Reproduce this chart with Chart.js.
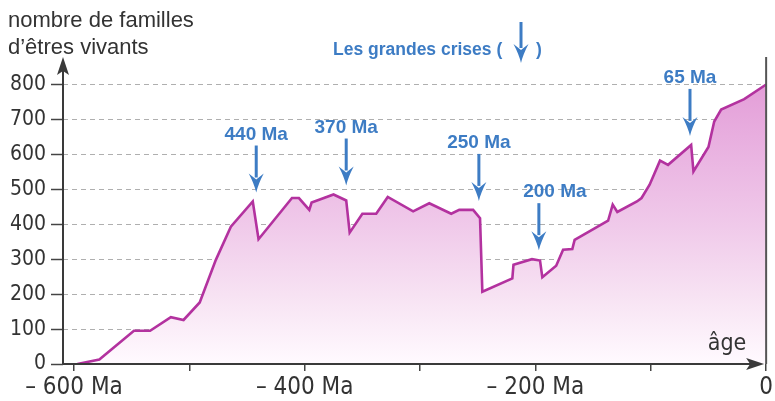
<!DOCTYPE html>
<html>
<head>
<meta charset="utf-8">
<script src="https://cdn.jsdelivr.net/npm/chart.js@4"></script>
<style>
  html, body { margin: 0; padding: 0; background: #fff; }
  #wrap { width: 775px; height: 401px; }
</style>
</head>
<body>
<div id="wrap"><canvas id="crises"></canvas></div>
<script>
// age (Ma, negative = past) and number of families
const ages = [-597, -578, -548, -534, -516, -505, -491, -477, -464, -445, -440, -411, -405, -396, -394,
  -375, -364, -361, -350, -338, -328, -306, -292, -273, -266, -254, -248, -246, -220, -219, -203, -196,
  -194, -182, -176, -168, -166, -137, -133, -129, -112, -108, -101, -92, -85, -65, -63, -50, -45, -39, -19, 0];
const families = [0, 13, 95, 95, 134, 126, 176, 298, 393, 465, 357, 475, 475, 441, 462,
  485, 468, 376, 430, 430, 478, 437, 460, 430, 441, 441, 417, 207, 245, 284, 300, 296,
  248, 281, 327, 329, 355, 410, 456, 435, 465, 475, 513, 582, 570, 627, 551, 621, 694, 728, 758, 800];

const xTicks = [-600, -500, -400, -300, -200, -100, 0];
const xTickLabels = { "-600": "– 600 Ma", "-400": "– 400 Ma", "-200": "– 200 Ma", "0": "0" };
const yTicks = [0, 100, 200, 300, 400, 500, 600, 700, 800];

// the big crises: label, age, families just before the drop
const crisisLabels = ["440 Ma", "370 Ma", "250 Ma", "200 Ma", "65 Ma"];
const crisisAges = [-442, -364, -249, -197, -66];
const crisisFamilies = [465, 485, 441, 300, 627];

const BLUE = "#3d7cc4";
const INK = "#333";
const narrow = "'Liberation Sans Narrow', 'DejaVu Sans Condensed', sans-serif";

function arrow(ctx, x, top, tip, headW, headL) {
  ctx.save();
  ctx.fillStyle = BLUE;
  ctx.strokeStyle = BLUE;
  ctx.lineWidth = 3;
  ctx.beginPath();
  ctx.moveTo(x, top);
  ctx.lineTo(x, tip - headL + 4);
  ctx.stroke();
  ctx.beginPath();
  ctx.moveTo(x, tip);
  ctx.quadraticCurveTo(x + 2, tip - headL * 0.45, x + headW / 2, tip - headL);
  ctx.lineTo(x, tip - headL + 6);
  ctx.lineTo(x - headW / 2, tip - headL);
  ctx.quadraticCurveTo(x - 2, tip - headL * 0.45, x, tip);
  ctx.fill();
  ctx.restore();
}

const decor = {
  id: "decor",
  afterDraw(chart) {
    const { ctx, chartArea: a, scales: { x, y } } = chart;
    ctx.save();
    // axes
    ctx.strokeStyle = "#3a3a3a";
    ctx.fillStyle = "#3a3a3a";
    ctx.lineWidth = 2;
    ctx.beginPath();
    ctx.moveTo(a.left, a.bottom);
    ctx.lineTo(a.left, a.top + 8);
    ctx.moveTo(a.left, a.bottom);
    ctx.lineTo(a.right - 10, a.bottom);
    ctx.stroke();
    // right border at age 0
    ctx.strokeStyle = "#555";
    ctx.beginPath();
    ctx.moveTo(x.getPixelForValue(0), a.top - 3);
    ctx.lineTo(x.getPixelForValue(0), a.bottom);
    ctx.stroke();
    // arrow heads
    ctx.beginPath();
    ctx.moveTo(a.left, a.top - 3);
    ctx.lineTo(a.left + 6, a.top + 15);
    ctx.lineTo(a.left, a.top + 11);
    ctx.lineTo(a.left - 6, a.top + 15);
    ctx.closePath();
    ctx.fill();
    ctx.beginPath();
    ctx.moveTo(a.right - 2, a.bottom);
    ctx.lineTo(a.right - 20, a.bottom - 6);
    ctx.lineTo(a.right - 16, a.bottom);
    ctx.lineTo(a.right - 20, a.bottom + 6);
    ctx.closePath();
    ctx.fill();

    // axis titles
    ctx.fillStyle = INK;
    ctx.font = "22px 'Liberation Sans', sans-serif";
    ctx.textAlign = "left";
    ctx.textBaseline = "alphabetic";
    ctx.fillText("nombre de familles", 8, 27);
    ctx.fillText("d’êtres vivants", 8, 54);
    ctx.font = "23px " + narrow;
    ctx.textAlign = "center";
    ctx.fillText("âge", 727, 350);

    // crises
    ctx.font = "bold 19px 'Liberation Sans', sans-serif";
    crisisLabels.forEach((lab, i) => {
      const px = x.getPixelForValue(crisisAges[i]);
      const tip = y.getPixelForValue(crisisFamilies[i]) - 9;
      const top = tip - 47;
      arrow(ctx, px, top, tip, 15, 19);
      const shift = lab === "200 Ma" ? 16 : 0;
      ctx.fillStyle = BLUE;
      ctx.fillText(lab, px + shift, top - 6);
    });

    // key
    ctx.font = "bold 17.5px 'Liberation Sans', sans-serif";
    ctx.textAlign = "left";
    ctx.fillText("Les grandes crises (", 333, 55);
    ctx.fillText(")", 536, 55);
    arrow(ctx, 521, 22, 63, 15, 19);
    ctx.restore();
  }
};

const config = {
  type: "line",
  data: {
    datasets: [{
      data: ages.map((a, i) => ({ x: a, y: families[i] })),
      borderColor: "#b3329f",
      borderWidth: 2.6,
      pointRadius: 0,
      tension: 0,
      fill: "origin",
      backgroundColor: (c) => {
        const a = c.chart.chartArea;
        if (!a) return "rgba(0,0,0,0)";
        const g = c.chart.ctx.createLinearGradient(0, a.top, 0, a.bottom);
        g.addColorStop(0, "#e196d4");
        g.addColorStop(0.25, "#e8aedf");
        g.addColorStop(0.55, "#f0caea");
        g.addColorStop(0.8, "#f8e5f4");
        g.addColorStop(1, "#fffaff");
        return g;
      }
    }]
  },
  options: {
    responsive: true,
    maintainAspectRatio: false,
    animation: false,
    layout: { padding: { top: 60, right: 4, left: 0, bottom: 0 } },
    plugins: { legend: { display: false }, tooltip: { enabled: false } },
    scales: {
      x: {
        type: "linear",
        min: -609.5,
        max: 0,
        afterBuildTicks: (s) => { s.ticks = xTicks.map(v => ({ value: v })); },
        afterFit: (s) => { s.height = 37; },
        border: { display: false },
        grid: { drawOnChartArea: false, drawTicks: true, tickLength: 7, color: "#444", lineWidth: 1.5 },
        ticks: {
          autoSkip: false,
          maxRotation: 0,
          padding: 2,
          color: INK,
          font: { family: narrow, size: 24 },
          callback: (v) => xTickLabels[String(v)] || ""
        }
      },
      y: {
        min: 0,
        max: 870,
        z: 1,
        afterBuildTicks: (s) => { s.ticks = yTicks.map(v => ({ value: v })); },
        afterFit: (s) => { s.width = 63; },
        border: { display: false, dash: [5, 4] },
        grid: {
          color: (c) => c.tick && c.tick.value === 0 ? "rgba(0,0,0,0)" : "rgba(110,110,110,0.55)",
          lineWidth: 1,
          tickLength: 12,
          tickColor: "#444",
          tickBorderDash: [],
          tickWidth: 1.5
        },
        ticks: {
          padding: 5,
          color: INK,
          font: { family: narrow, size: 21 }
        }
      }
    }
  },
  plugins: [decor]
};

new Chart(document.getElementById("crises"), config);
</script>
</body>
</html>
